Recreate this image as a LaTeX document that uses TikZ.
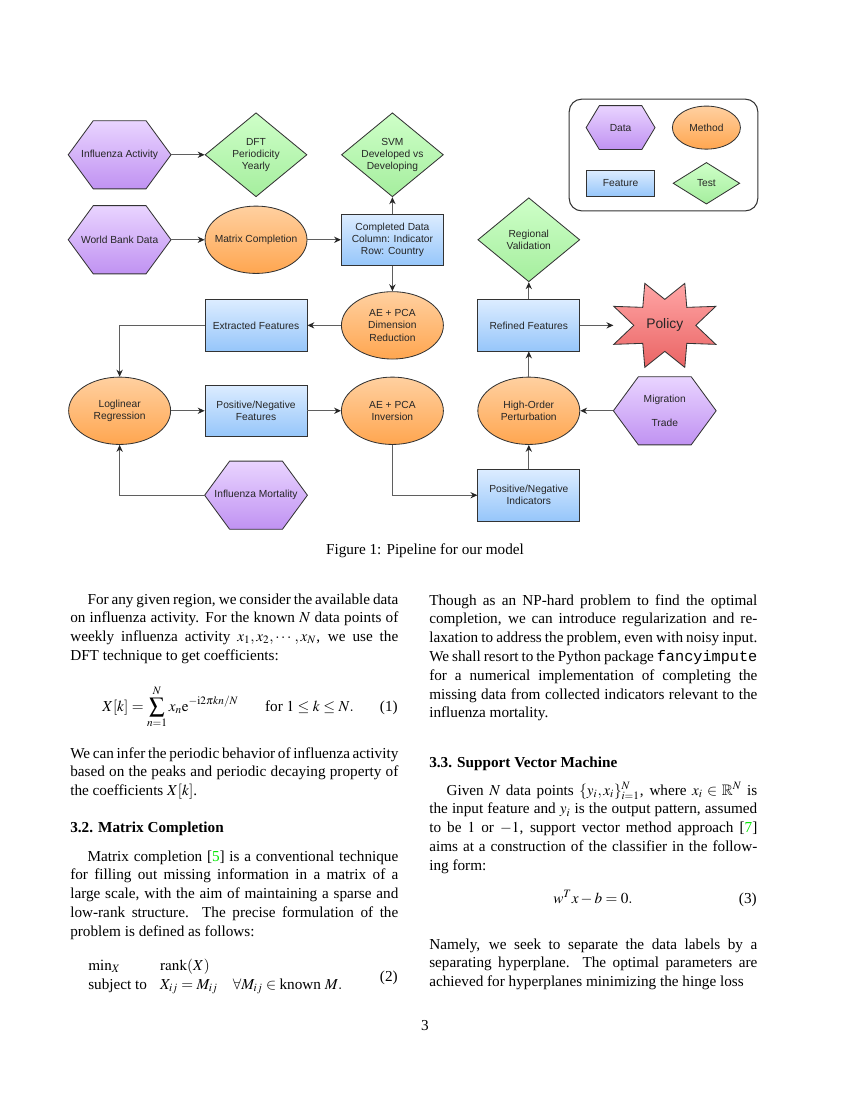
\documentclass[tikz,border=0pt]{standalone}
\usepackage{amsmath,amssymb}
\usepackage{mathptmx}
\usepackage{fontspec}
\setmainfont{Liberation Serif}
\setsansfont{Liberation Sans}
\setmonofont{Liberation Mono}
\usepackage{xcolor}
\usetikzlibrary{shapes.geometric,arrows.meta,backgrounds}

\definecolor{datatop}{RGB}{233,212,255}
\definecolor{databot}{RGB}{192,146,242}
\definecolor{methtop}{RGB}{255,208,160}
\definecolor{methbot}{RGB}{255,166,80}
\definecolor{feattop}{RGB}{220,236,255}
\definecolor{featbot}{RGB}{150,198,250}
\definecolor{testtop}{RGB}{206,255,200}
\definecolor{testbot}{RGB}{165,238,158}
\definecolor{poltop}{RGB}{255,165,165}
\definecolor{polbot}{RGB}{234,100,100}
\definecolor{edge}{RGB}{51,51,51}
\definecolor{wire}{RGB}{95,95,95}
\definecolor{citegreen}{RGB}{0,230,0}

\tikzset{
    shapebase/.style = { inner sep=0pt, sharp corners, line width=0.6bp, align=center,
	text=black!85, minimum width=73.4bp, font=\sffamily\fontsize{7.4}{8.8}\selectfont },
    datahex/.style   = { shapebase, minimum height=48.5bp },
    methodell/.style = { shapebase, ellipse, inner xsep=-6bp, draw=edge, top color=methtop,
	bottom color=methbot, minimum height=48.5bp },
    featblock/.style = { shapebase, rectangle, draw=edge, top color=feattop, bottom color=featbot,
	minimum height=37bp },
    testdia/.style   = { shapebase, diamond, aspect=1.21, inner sep=-1pt, draw=edge,
	top color=testtop, bottom color=testbot, minimum height=60.5bp },
    goalstar/.style  = { shapebase, minimum height=60.5bp, font=\sffamily\fontsize{10}{12}\selectfont },
    hexfill/.style   = { draw=edge, line width=0.6bp, top color=datatop, bottom color=databot },
    starfill/.style  = { draw=edge, line width=0.6bp, top color=poltop, bottom color=polbot },
    line/.style      = { draw=wire, line width=0.75bp, -{Stealth[length=5bp,width=4.5bp,color=black!85]} },
    body/.style      = { anchor=base west, inner sep=0pt, text width=236.2bp, align=justify,
	font=\fontsize{11}{13.6}\selectfont },
    head/.style      = { anchor=base west, inner sep=0pt, font=\fontsize{11}{13.6}\selectfont\bfseries },
    plain/.style     = { inner sep=0pt, font=\fontsize{11}{13.6}\selectfont },
}
\newcommand{\hexoutline}[2]{(#1.west) -- ([xshift=#2]#1.north west) -- ([xshift=-#2]#1.north east)
    -- (#1.east) -- ([xshift=-#2]#1.south east) -- ([xshift=#2]#1.south west) -- cycle}
\newcommand{\cit}[1]{[\textcolor{citegreen}{#1}]}

\begin{document}
\begin{tikzpicture}[x=0.72bp, y=-0.72bp]
\useasboundingbox (0,0) rectangle (850,1100);

% pipeline
\matrix (pipe) [ampersand replacement=\&, column sep=24.2bp, row sep=0pt, inner sep=0pt] at (392,320.7) {
	\node (infact) [datahex] {Influenza Activity}; \& \node (dft) [testdia] {DFT\\Periodicity\\Yearly}; \&
	\node (svm) [testdia] {SVM\\Developed vs\\Developing}; \& \& \\[0.34bp]
	\node (wbd) [datahex] {World Bank Data}; \& \node (mc) [methodell] {Matrix Completion}; \&
	\node (compl) [featblock] {Completed Data\\Column: Indicator\\Row: Country}; \&
	\node (regval) [testdia] {Regional\\Validation}; \& \\[0.95bp]
	\& \node (extr) [featblock] {Extracted Features}; \& \node (aedr) [methodell] {AE + PCA\\Dimension\\Reduction}; \&
	\node (refined) [featblock] {Refined Features}; \& \node (policy) [goalstar] {Policy}; \\[6.7bp]
	\node (loglin) [methodell] {Loglinear\\Regression}; \& \node (pnfeat) [featblock] {Positive/Negative\\Features}; \&
	\node (aeinv) [methodell] {AE + PCA\\Inversion}; \& \node (highord) [methodell] {High-Order\\Perturbation}; \&
	\node (migr) [datahex] {Migration\\[8.5bp]Trade}; \\[12bp]
	\& \node (mort) [datahex] {Influenza Mortality}; \& \& \node (pnind) [featblock] {Positive/Negative\\Indicators}; \& \\
};

% legend
\matrix (key) [ampersand replacement=\&, draw=edge, line width=0.75bp, rounded corners=9bp,
	inner xsep=12.2bp, inner ysep=4.7bp, column sep=12.2bp, row sep=9.1bp] at (663.5,155) {
	\node (kdata) [datahex, minimum width=49bp, minimum height=31bp] {Data}; \&
	\node (kmethod) [methodell, minimum width=49bp, minimum height=31bp] {Method}; \\
	\node (kfeat) [featblock, minimum width=49bp, minimum height=19bp] {Feature}; \&
	\node (ktest) [testdia, minimum width=48bp, minimum height=30bp] {Test}; \\
};

\path[line] (infact) -- (dft);
\path[line] (wbd) -- (mc);
\path[line] (mc) -- (compl);
\path[line] (compl) -- (svm);
\path[line] (compl) -- (aedr);
\path[line] (aedr) -- (extr);
\path[line] (extr.west) -| (loglin.north);
\path[line] (loglin) -- (pnfeat);
\path[line] (pnfeat) -- (aeinv);
\path[line] (mort.west) -| (loglin.south);
\path[line] (aeinv.south) |- (pnind.west);
\path[line] (pnind) -- (highord);
\path[line] (highord) -- (refined);
\path[line] (refined) -- (regval);
\path[line] (refined) -- (policy.west);
\path[line] (migr) -- (highord);

\begin{scope}[on background layer]
	\foreach \n/\s in {infact/18bp, wbd/18bp, mort/18bp, migr/18bp, kdata/9.5bp}
		\path[hexfill] \hexoutline{\n}{\s};
	\begin{scope}[shift={(policy.center)}]
		\path[starfill] (-20,-42) -- (0,-26) -- (20,-42) -- (22,-18) -- (51,-19) -- (31,0) -- (51,19)
			-- (22,18) -- (20,42) -- (0,26) -- (-20,42) -- (-22,18) -- (-51,19) -- (-31,0)
			-- (-51,-19) -- (-22,-18) -- cycle;
	\end{scope}
\end{scope}

\node (cap) [plain, anchor=base] at (425,554) {Figure 1: Pipeline for our model};

% left column
\node (para1) [body] at (70,604) {\hspace*{12.5bp}For any given region, we consider the available data\linebreak
	on influenza activity. For the known $N$ data points of\linebreak
	weekly influenza activity $x_1, x_2, \cdots, x_N$, we use the\linebreak
	DFT technique to get coefficients:};
\node (eq1) [plain, anchor=base west] at (102,711)
	{$\displaystyle X[k]=\sum_{n=1}^{N}x_n\mathrm{e}^{-\mathrm{i}2\pi kn/N}$\hspace{1.5em} for $1\le k\le N.$};
\node (tag1) [plain, anchor=base east] at (398,711) {(1)};
\node (para2) [body] at (70,758) {We can infer the periodic behavior of influenza activity\linebreak
	based on the peaks and periodic decaying property of\linebreak
	the coefficients $X[k]$.};
\node (sec32) [head] at (70,832) {3.2. Matrix Completion};
\node (para3) [body] at (70,861) {\hspace*{12.5bp}Matrix completion \cit{5} is a conventional technique\linebreak
	for filling out missing information in a matrix of a\linebreak
	large scale, with the aim of maintaining a sparse and\linebreak
	low-rank structure.  The precise formulation of the\linebreak
	problem is defined as follows:};
\node (eq2) [plain, anchor=west] at (88,976)
	{$\begin{array}{@{}l@{\hspace{9.4bp}}l@{}}
	\min_X & \mathrm{rank}(X)\\
	\text{subject to} & X_{ij}=M_{ij}\quad\forall M_{ij}\in\text{known }M.
	\end{array}$};
\node (tag2) [plain, anchor=base east] at (398,981) {(2)};

% right column
\node (para4) [body] at (429,605) {Though as an NP-hard problem to find the optimal\linebreak
	completion, we can introduce regularization and re-\linebreak
	laxation to address the problem, even with noisy input.\linebreak
	We shall resort to the Python package \texttt{fancyimpute}\linebreak
	for a numerical implementation of completing the\linebreak
	missing data from collected indicators relevant to the\linebreak
	influenza mortality.};
\node (sec33) [head] at (429,767) {3.3. Support Vector Machine};
\node (para5) [body] at (429,795) {\hspace*{12.5bp}Given $N$ data points $\{y_i,x_i\}_{i=1}^N$, where $x_i\in\mathbb{R}^N$ is\linebreak
	the input feature and $y_i$ is the output pattern, assumed\linebreak
	to be $1$ or $-1$, support vector method approach \cit{7}\linebreak
	aims at a construction of the classifier in the follow-\linebreak
	ing form:};
\node (eq3) [plain, anchor=base] at (593,903) {$w^Tx-b=0.$};
\node (tag3) [plain, anchor=base east] at (757,903) {(3)};
\node (para6) [body] at (429,949) {\parfillskip=0pt Namely, we seek to separate the data labels by a\linebreak
	separating hyperplane.  The optimal parameters are\linebreak
	achieved for hyperplanes minimizing the hinge loss};

\node (pnum) [plain, anchor=base] at (425,1030) {3};
\end{tikzpicture}
\end{document}
